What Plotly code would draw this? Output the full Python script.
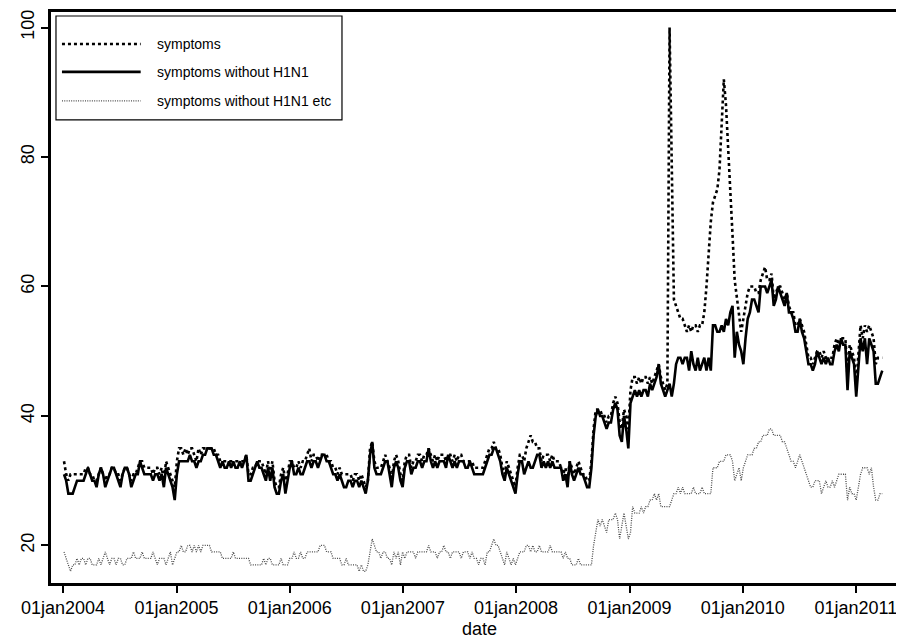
import pandas as pd
import plotly.graph_objects as go

# ---------------- data (weekly, starting 04jan2004) ----------------
sym_2004 = [33,31,30,31,31,31,31,31,31,31, 32,32,31,31,30,30,31,32,31,30,
            31,31,32,32,31,31,30,31,32,32, 31,30,31,31,32,33,33,32,32,32,
            32,31,32,32,31,32,30,33,32,31, 30,29]
sym_2005 = [33,35,35,34,35,34,35,35,34,33, 35,34,35,35,35,35,35,35,34,34,
            33,33,33,33,33,33,33,33,33,33, 33,33,34,31,31,32,32,33,33,33,
            32,31,33,31,33,30,29,29,31,32, 30,31]
sym_2006 = [33,33,32,32,33,32,33,33,34,35, 33,34,34,33,34,34,34,34,33,33,
            32,32,31,32,31,31,31,31,31,30, 31,31,30,31,30,29,30,35,36,33,
            32,32,32,33,34,33,32,30,33,34, 33,31]
sym_2007 = [30,33,34,34,32,33,33,34,34,33, 34,34,35,34,33,34,33,34,34,34,
            33,34,34,33,34,33,34,34,33,33, 33,33,33,32,32,32,32,32,33,34,
            35,35,36,35,35,34,32,31,33,32, 31,30]
sym_2008 = [29,32,34,34,33,35,36,37,36,36, 35,35,33,34,34,34,33,34,33,33,
            33,32,31,32,30,33,32,31,32,33, 32,31,31,30,30,33,38,41,41,41,
            40,40,39,40,40,42,43,42,39,38, 41,40,38]
sym_2009 = [44,46,46,45,46,45,46,46,45,46, 45,46,47,48,46,45,44,45,100,79,
            58,57,56,55,55,54,53,54,53,54, 54,53,54,54,56,60,66,70,73,74,
            75,78,85,92,88,82,76,68,61,58, 55,53]
sym_2010 = [55,57,59,60,60,60,59,59,61,62, 63,61,61,62,58,59,60,60,59,58,
            59,57,56,56,54,54,55,54,53,51, 49,49,48,49,50,50,49,50,49,49,
            49,49,51,52,51,52,52,52,46,51, 50,49]
sym_2011 = [45,50,54,52,54,53,54,53,52,48, 49,49,49]

noh_2004 = [31,30,28,28,28,29,30,30,30,30, 31,32,31,30,30,29,31,32,31,29,
            30,31,32,32,31,30,29,31,32,32, 31,29,30,31,31,33,32,31,31,31,
            31,30,31,31,30,31,29,32,31,30, 29,27]
noh_2005 = [31,33,33,33,33,33,34,33,33,32, 33,33,34,34,35,35,35,34,34,33,
            32,33,32,32,33,32,33,32,32,33, 32,33,34,30,30,31,32,33,32,32,
            31,30,32,30,32,29,28,28,30,31, 28,30]
noh_2006 = [32,33,31,31,32,31,31,32,33,33, 32,33,33,32,33,34,34,33,33,32,
            31,31,30,31,30,29,29,30,30,29, 30,30,29,30,29,28,30,34,36,32,
            31,31,31,32,33,33,31,29,32,33, 32,30]
noh_2007 = [29,32,33,33,31,32,32,33,33,32, 33,33,35,33,32,33,32,33,33,33,
            32,34,33,32,33,32,33,33,33,32, 32,33,32,31,31,31,31,31,32,33,
            34,34,35,35,34,33,31,30,32,31, 30,29]
noh_2008 = [28,31,33,33,31,32,33,32,32,33, 34,34,32,33,32,33,32,33,32,32,
            32,32,30,31,29,33,31,30,31,32, 31,31,30,29,29,32,37,40,41,40,
            40,39,38,39,39,41,42,41,37,36, 40,38,35]
noh_2009 = [42,43,44,43,44,43,44,44,43,45, 44,45,46,48,45,44,43,44,45,43,
            45,48,49,49,48,49,49,47,50,48, 47,49,47,48,49,47,49,47,54,54,
            53,53,54,53,55,54,56,57,49,53, 51,50]
noh_2010 = [48,52,55,56,58,58,57,56,60,60, 60,59,60,61,57,58,60,59,58,57,
            59,56,56,55,53,53,55,53,52,50, 48,48,47,48,50,49,48,49,48,49,
            48,48,50,51,50,52,51,51,44,50, 49,48]
noh_2011 = [43,48,52,50,52,48,52,51,50,45, 45,46,47]

etc_2004 = [19,18,17,16,17,17,18,17,18,18, 17,18,18,17,17,17,18,17,18,19,
            18,17,18,18,17,18,18,17,17,18, 18,18,19,18,18,18,19,18,18,18,
            18,19,18,17,18,18,18,17,18,19, 17,18]
etc_2005 = [19,19,20,19,19,20,20,19,20,19, 20,19,20,20,20,20,19,19,19,19,
            19,18,18,18,18,18,19,18,18,18, 18,18,18,18,17,17,17,17,17,17,
            18,17,18,18,17,17,17,17,18,17, 17,17]
etc_2006 = [18,18,19,18,18,19,18,18,19,19, 19,19,19,19,20,20,20,19,19,19,
            18,18,18,18,17,17,18,17,17,17, 17,17,16,17,16,16,17,19,21,20,
            19,19,18,19,19,18,18,17,19,18, 19,17]
etc_2007 = [19,18,19,19,19,19,18,19,19,19, 19,19,20,19,19,19,18,19,19,20,
            19,19,18,19,19,19,19,18,19,19, 19,18,19,18,18,17,18,18,17,19,
            19,20,21,20,20,19,18,17,19,18, 17,18]
etc_2008 = [17,18,19,19,19,20,20,19,20,19, 19,20,19,19,19,19,20,19,19,19,
            19,19,18,19,18,18,17,17,17,18, 17,17,17,17,17,17,20,22,24,23,
            24,23,22,24,24,24,25,24,21,23, 25,23,21]
etc_2009 = [22,26,25,25,25,26,25,26,26,27, 27,28,27,28,26,26,26,26,26,27,
            28,28,29,28,29,28,28,28,28,29, 28,28,28,29,28,28,28,28,32,32,
            32,33,33,33,34,34,34,33,30,31, 32,30]
etc_2010 = [32,33,34,34,34,35,35,36,36,37, 37,37,38,38,37,37,37,37,36,36,
            35,34,33,33,32,33,34,33,32,31, 30,29,29,30,30,30,28,29,30,29,
            29,30,29,30,31,31,31,31,27,29, 28,28]
etc_2011 = [27,29,31,32,32,32,31,32,29,27, 27,28,28]

symptoms = sym_2004 + sym_2005 + sym_2006 + sym_2007 + sym_2008 + sym_2009 + sym_2010 + sym_2011
no_h1n1 = noh_2004 + noh_2005 + noh_2006 + noh_2007 + noh_2008 + noh_2009 + noh_2010 + noh_2011
no_h1n1_etc = etc_2004 + etc_2005 + etc_2006 + etc_2007 + etc_2008 + etc_2009 + etc_2010 + etc_2011

dates = pd.date_range("2004-01-04", periods=len(symptoms), freq="7D")

tick_dates = ["2004-01-01", "2005-01-01", "2006-01-01", "2007-01-01",
              "2008-01-01", "2009-01-01", "2010-01-01", "2011-01-01"]
tick_text = ["01jan2004", "01jan2005", "01jan2006", "01jan2007",
             "01jan2008", "01jan2009", "01jan2010", "01jan2011"]
y_ticks = [20, 40, 60, 80, 100]
legend_names = ["symptoms", "symptoms without H1N1", "symptoms without H1N1 etc"]

# ---------------- styling ----------------
FONT = "Liberation Sans, Arial, Helvetica, sans-serif"
W, H = 904, 644
ML, MR, MT, MB = 43, 1, 3, 69
PW, PH = W - ML - MR, H - MT - MB

styles = [
    dict(color="black", width=2.6, dash="3px,3px"),
    dict(color="black", width=2.6),
    dict(color="#4a4a4a", width=1.3, dash="1px,1.3px"),
]

fig = go.Figure()
for name, ys, st in zip(legend_names, [symptoms, no_h1n1, no_h1n1_etc], styles):
    fig.add_trace(go.Scatter(x=dates, y=ys, mode="lines", name=name,
                             line=st, showlegend=False))


def px_x(off):
    # offset in pixels from the left edge of the plot frame -> paper coords
    return off / PW


def px_y(off):
    # offset in pixels from the top edge of the plot frame -> paper coords
    return 1 - off / PH


# manual legend (Stata style box inside plot region)
shapes = [dict(type="rect", xref="paper", yref="paper",
               x0=px_x(5), x1=px_x(292), y0=px_y(108), y1=px_y(4),
               line=dict(color="black", width=1.2), fillcolor="white", layer="above")]
annotations = []
row_off = [32, 60, 89]
for name, st, ry in zip(legend_names, styles, row_off):
    shapes.append(dict(type="line", xref="paper", yref="paper",
                       x0=px_x(11), x1=px_x(90), y0=px_y(ry), y1=px_y(ry),
                       line=st, layer="above"))
    annotations.append(dict(text=name, xref="paper", yref="paper",
                            x=px_x(104), y=px_y(ry), xanchor="left", yanchor="middle",
                            showarrow=False, font=dict(family=FONT, size=14, color="black")))

fig.update_layout(
    width=W, height=H,
    margin=dict(l=ML, r=MR, t=MT, b=MB),
    paper_bgcolor="white", plot_bgcolor="white",
    font=dict(family=FONT, size=18, color="black"),
    shapes=shapes, annotations=annotations,
    showlegend=False,
)
fig.update_xaxes(
    type="date", range=["2003-11-23", "2011-06-18"],
    tickvals=tick_dates, ticktext=tick_text,
    ticks="outside", ticklen=7, tickwidth=1.5, tickcolor="black",
    showline=True, linecolor="black", linewidth=2.5, mirror=True,
    showgrid=False, zeroline=False,
    tickfont=dict(family=FONT, size=18),
    title=dict(text="date", font=dict(family=FONT, size=18), standoff=6),
)
fig.update_yaxes(
    range=[14.2, 102.4], tickvals=y_ticks, ticktext=[str(v) for v in y_ticks],
    tickangle=-90,
    ticks="outside", ticklen=7, tickwidth=1.5, tickcolor="black",
    showline=True, linecolor="black", linewidth=2.5, mirror=True,
    showgrid=False, zeroline=False,
    tickfont=dict(family=FONT, size=18),
)

fig.write_html("out.html")
